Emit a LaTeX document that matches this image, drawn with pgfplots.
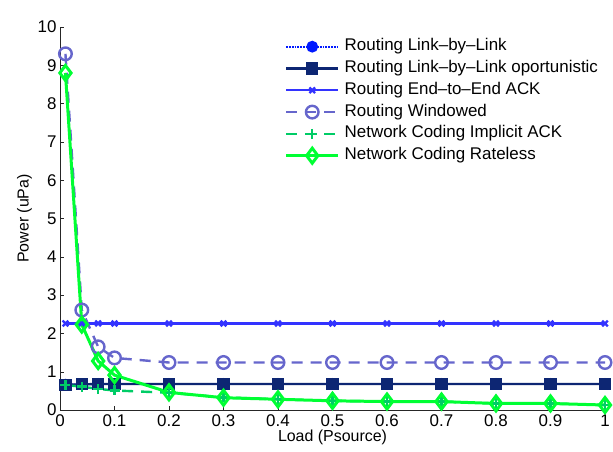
\documentclass[border=0pt]{standalone}
\usepackage{fontspec}
\setmainfont{Liberation Sans}
\usepackage{pgfplots}
\pgfplotsset{compat=1.18}
\definecolor{lbl}{rgb}{0,0.1,1}
\definecolor{opp}{rgb}{0.05,0.15,0.45}
\definecolor{ete}{rgb}{0.2,0.2,1}
\definecolor{win}{rgb}{0.4,0.4,0.8}
\definecolor{nci}{rgb}{0,0.8,0.4}
\definecolor{ncr}{rgb}{0,1,0.2}
\begin{document}
\begin{tikzpicture}
\begin{axis}[
    scale only axis,
    width=545bp, height=383bp,
    xmin=0, xmax=1, ymin=0, ymax=10,
    xtick={0,0.1,...,1}, ytick={0,1,...,10},
    xticklabels={0,0.1,0.2,0.3,0.4,0.5,0.6,0.7,0.8,0.9,1},
    yticklabels={0,1,2,3,4,5,6,7,8,9,10},
    axis x line*=bottom, axis y line*=left,
    axis line style={-, black!85},
    tick align=inside, major tick length=4bp,
    tick style={black!85},
    ticklabel style={font=\fontsize{17}{19}\selectfont},
    xticklabel style={yshift=-1bp},
    label style={font=\fontsize{16}{18}\selectfont},
    xlabel={Load (Psource)}, ylabel={Power (uPa)},
    xlabel style={yshift=3bp}, ylabel style={yshift=-1bp},
    legend style={draw=none, fill=none, at={(0.412,0.97)}, anchor=north west,
      font=\fontsize{17}{19}\selectfont, row sep=5.8bp, inner sep=0bp,
      nodes={inner xsep=5bp, inner ysep=0bp, text height=12bp, text depth=4bp}},
    legend cell align=left,
    legend image code/.code={\draw[mark repeat=2,mark phase=2] plot coordinates {(0bp,0bp) (26bp,0bp) (52bp,0bp)};},
  ]
\coordinate (ll) at (rel axis cs:0,0);
\coordinate (ur) at (rel axis cs:1,1);
\addplot[lbl, densely dotted, line width=1.8bp, mark=*, mark size=5bp, mark options={solid}] coordinates {
(0.01,0.66) (0.04,0.67) (0.07,0.68) (0.1,0.68) (0.2,0.68) (0.3,0.68) (0.4,0.68) (0.5,0.68) (0.6,0.68) (0.7,0.68) (0.8,0.68) (0.9,0.68) (1,0.68)};
\addplot[opp, line width=2.3bp, mark=square*, mark size=5bp, mark options={solid}] coordinates {
(0.01,0.66) (0.04,0.67) (0.07,0.68) (0.1,0.68) (0.2,0.68) (0.3,0.68) (0.4,0.68) (0.5,0.68) (0.6,0.68) (0.7,0.68) (0.8,0.68) (0.9,0.68) (1,0.68)};
\addplot[ete, line width=2.3bp, mark=x, mark size=4bp, mark options={solid}] coordinates {
(0.01,2.26) (0.04,2.26) (0.07,2.26) (0.1,2.26) (0.2,2.26) (0.3,2.26) (0.4,2.26) (0.5,2.26) (0.6,2.26) (0.7,2.26) (0.8,2.26) (0.9,2.26) (1,2.26)};
\addplot[win, dashed, dash pattern=on 11bp off 8bp, line width=2.4bp, mark=o, mark size=6.3bp, mark options={solid}] coordinates {
(0.01,9.3) (0.04,2.61) (0.07,1.65) (0.1,1.36) (0.2,1.24) (0.3,1.24) (0.4,1.24) (0.5,1.24) (0.6,1.24) (0.7,1.24) (0.8,1.24) (0.9,1.24) (1,1.24)};
\addplot[nci, dashed, dash pattern=on 11bp off 8bp, line width=2.4bp, mark=+, mark size=5bp, mark options={solid}] coordinates {
(0.01,0.65) (0.04,0.61) (0.07,0.55) (0.1,0.51) (0.2,0.45) (0.3,0.33) (0.4,0.28) (0.5,0.24) (0.6,0.22) (0.7,0.22) (0.8,0.17) (0.9,0.17) (1,0.13)};
\addplot[ncr, line width=3bp, mark=diamond, mark size=7.5bp, mark options={solid}] coordinates {
(0.01,8.8) (0.04,2.23) (0.07,1.28) (0.1,0.91) (0.2,0.46) (0.3,0.32) (0.4,0.28) (0.5,0.24) (0.6,0.22) (0.7,0.22) (0.8,0.17) (0.9,0.17) (1,0.13)};
\legend{Routing Link\textendash by\textendash Link, Routing Link\textendash by\textendash Link oportunistic, Routing End\textendash to\textendash End ACK, Routing Windowed, Network Coding Implicit ACK, Network Coding Rateless}
\node[anchor=south west, font=\fontsize{16}{18}\selectfont, inner sep=0pt] at ([yshift=7bp]rel axis cs:0,1) {x 10\textsuperscript{14}};
\end{axis}
\pgfresetboundingbox
\path ([shift={(-60bp,-42bp)}]ll) rectangle ([shift={(8bp,27bp)}]ur);
\end{tikzpicture}
\end{document}
